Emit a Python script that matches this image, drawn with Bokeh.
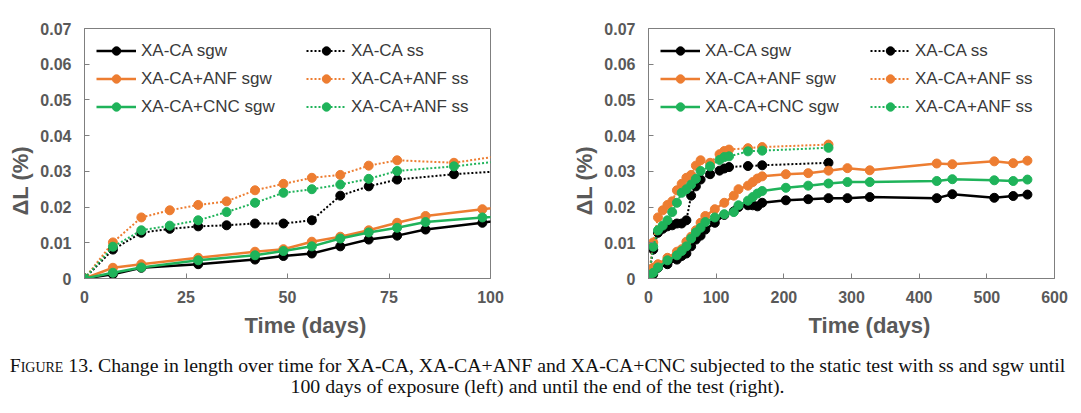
from bokeh.plotting import figure
from bokeh.models import Range1d, FixedTicker, CustomJSTickFormatter, Legend, LegendItem, Title, Div
from bokeh.layouts import column, row
from bokeh.embed import file_html
from bokeh.resources import INLINE

# ---------------- data ----------------
sgw_days = [0, 7, 14, 28, 42, 49, 56, 63, 70, 77, 84, 98, 112, 126, 133, 147, 154, 161, 168,
            203, 236, 266, 294, 327, 426, 449, 511, 539, 560]
xaca_sgw = [0, 0.0012, 0.0030, 0.0040, 0.0053, 0.0063, 0.0070, 0.0090, 0.0109, 0.0120, 0.0137,
            0.0156, 0.0178, 0.0188, 0.0200, 0.0205, 0.0205, 0.0202, 0.0212, 0.0219, 0.0222,
            0.0225, 0.0225, 0.0228, 0.0225, 0.0236, 0.0226, 0.0231, 0.0235]
anf_sgw = [0, 0.0030, 0.0040, 0.0058, 0.0075, 0.0082, 0.0103, 0.0117, 0.0135, 0.0156, 0.0175,
           0.0194, 0.0212, 0.0232, 0.0250, 0.0260, 0.0270, 0.0280, 0.0286, 0.0292, 0.0295,
           0.0302, 0.0309, 0.0303, 0.0322, 0.0320, 0.0328, 0.0323, 0.0330]
cnc_sgw = [0, 0.0016, 0.0031, 0.0051, 0.0065, 0.0077, 0.0090, 0.0112, 0.0129, 0.0142, 0.0158,
           0.0171, 0.0180, 0.0186, 0.0205, 0.0218, 0.0228, 0.0238, 0.0245, 0.0254, 0.0260,
           0.0266, 0.0270, 0.0270, 0.0273, 0.0278, 0.0275, 0.0273, 0.0277]

ss_days = [0, 7, 14, 21, 28, 35, 42, 49, 56, 63, 70, 77, 91, 105, 112, 119, 147, 168, 266]
xaca_ss = [0, 0.0081, 0.0128, 0.0139, 0.0146, 0.0149, 0.0154, 0.0154, 0.0163, 0.0232, 0.0258,
           0.0277, 0.0292, 0.0302, 0.0308, 0.0312, 0.0315, 0.0317, 0.0324]
anf_ss = [0, 0.0101, 0.0171, 0.0191, 0.0206, 0.0216, 0.0247, 0.0265, 0.0282, 0.0290, 0.0316,
          0.0331, 0.0324, 0.0348, 0.0357, 0.0361, 0.0365, 0.0368, 0.0375]
cnc_ss = [0, 0.0089, 0.0135, 0.0148, 0.0163, 0.0186, 0.0212, 0.0240, 0.0250, 0.0263, 0.0279,
          0.0301, 0.0314, 0.0332, 0.0340, 0.0342, 0.0356, 0.0358, 0.0366]

y_ticks = [0, 0.01, 0.02, 0.03, 0.04, 0.05, 0.06, 0.07]
left_x_ticks = [0, 25, 50, 75, 100]
right_x_ticks = [0, 100, 200, 300, 400, 500, 600]

labels_sgw = ["XA-CA sgw", "XA-CA+ANF sgw", "XA-CA+CNC sgw"]
labels_ss = ["XA-CA ss", "XA-CA+ANF ss", "XA-CA+ANF ss"]

BLACK = "#000000"
ORANGE = "#ED7D31"
GREEN = "#1FB35A"
GRAY = "#595959"
TICK_FONT = "Liberation Sans"

series_sgw = [(xaca_sgw, BLACK), (anf_sgw, ORANGE), (cnc_sgw, GREEN)]
series_ss = [(xaca_ss, BLACK), (anf_ss, ORANGE), (cnc_ss, GREEN)]


def make_plot(xmax, xticks, bl, br):
    p = figure(frame_width=406, frame_height=250,
               x_range=Range1d(0, xmax), y_range=Range1d(0, 0.07),
               output_backend="svg", toolbar_location=None,
               min_border_left=bl, min_border_right=br, min_border_top=28, min_border_bottom=62)
    p.xgrid.visible = False
    p.ygrid.visible = False
    p.outline_line_color = "#7F7F7F"
    p.outline_line_width = 1
    p.background_fill_color = "white"
    p.border_fill_color = "white"

    for ax in (p.xaxis[0], p.yaxis[0]):
        ax.axis_line_color = "#7F7F7F"
        ax.major_tick_line_color = "#7F7F7F"
        ax.major_tick_in = 5
        ax.major_tick_out = 0
        ax.minor_tick_line_color = None
        ax.major_label_text_font = TICK_FONT
        ax.major_label_text_font_style = "bold"
        ax.major_label_text_font_size = "16px"
        ax.major_label_text_color = GRAY
    p.xaxis.ticker = FixedTicker(ticks=xticks)
    p.yaxis.ticker = FixedTicker(ticks=y_ticks)
    p.yaxis.formatter = CustomJSTickFormatter(code="return tick == 0 ? '0' : tick.toFixed(2);")
    p.xaxis.major_label_standoff = 12
    p.yaxis.major_label_standoff = 13

    items_sgw = []
    items_ss = []
    for (vals, col), lab in zip(series_ss, labels_ss):
        l = p.line(ss_days, vals, line_color=col, line_width=2, line_dash="2 2")
        s = p.scatter(ss_days, vals, size=9, fill_color=col, line_color=col)
        items_ss.append(LegendItem(label=lab, renderers=[l, s]))
    for (vals, col), lab in zip(series_sgw, labels_sgw):
        l = p.line(sgw_days, vals, line_color=col, line_width=2.5)
        s = p.scatter(sgw_days, vals, size=9, fill_color=col, line_color=col)
        items_sgw.append(LegendItem(label=lab, renderers=[l, s]))

    legend = Legend(items=items_sgw + items_ss, ncols=2, location="top_left")
    legend.margin = 0
    legend.padding = 12
    legend.spacing = 7
    legend.glyph_width = 40
    legend.glyph_height = 21
    legend.label_height = 21
    legend.label_width = 158
    legend.label_standoff = 5
    legend.label_text_font = TICK_FONT
    legend.label_text_font_size = "17px"
    legend.label_text_color = "#3A3A3A"
    legend.border_line_alpha = 0
    legend.background_fill_alpha = 0
    p.add_layout(legend, "center")

    xt = Title(text="Time (days)", align="left", offset=160,
               text_font=TICK_FONT, text_font_style="bold", text_font_size="22px",
               text_color=GRAY)
    p.add_layout(xt, "below")
    yt = Title(text="ΔL (%)", align="left", offset=63,
               text_font=TICK_FONT, text_font_style="bold", text_font_size="22px",
               text_color=GRAY)
    p.add_layout(yt, "left")
    return p


p1 = make_plot(100, left_x_ticks, 75, 59)
p2 = make_plot(600, right_x_ticks, 99, 20)

caption = Div(width=1065, text=(
    "<div style=\"font-family:'Liberation Serif'; font-size:19.8px; line-height:21px; "
    "text-align:center; color:#111; width:1065px; padding-top:8px; white-space:nowrap;\">"
    "<span style='font-variant:small-caps'>Figure</span> 13. Change in length over time for "
    "XA-CA, XA-CA+ANF and XA-CA+CNC subjected to the static test with ss and sgw until<br>"
    "100 days of exposure (left) and until the end of the test (right).</div>"))

layout = column(row(p1, p2), caption)
open("out.html", "w").write(file_html(layout, INLINE))
